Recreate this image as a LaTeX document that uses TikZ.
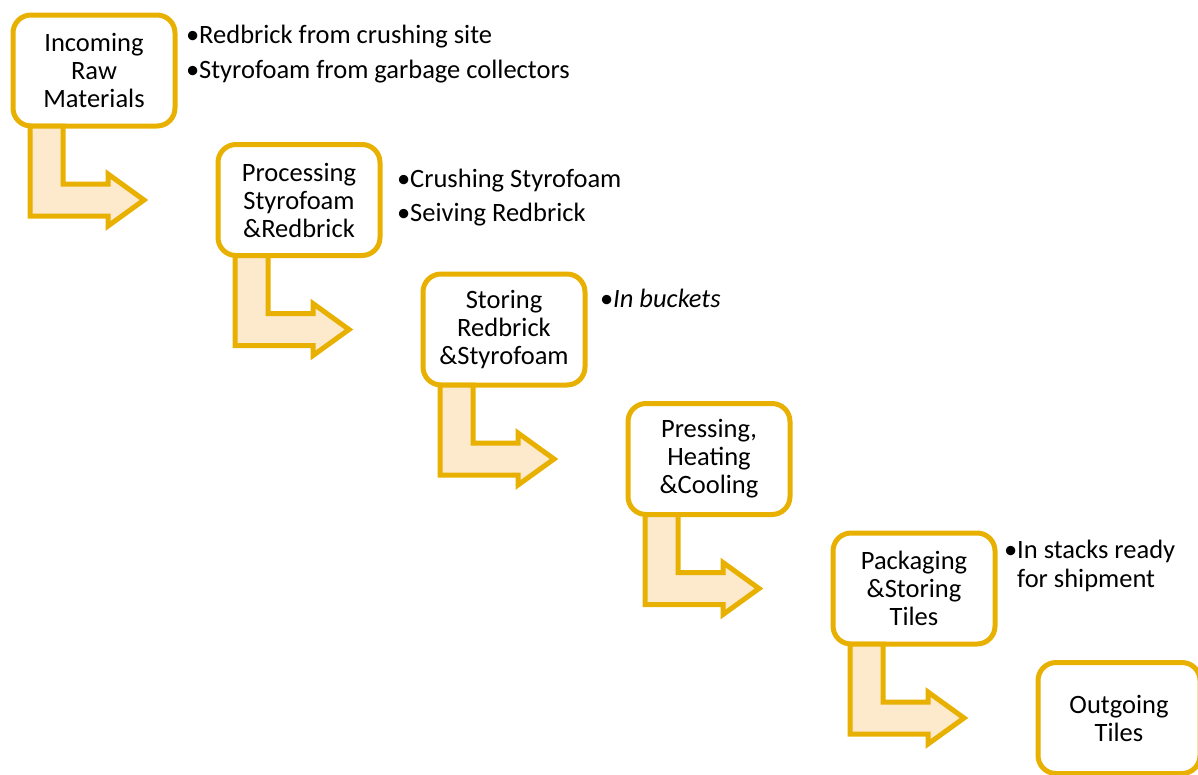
\documentclass[tikz,border=0pt]{standalone}
\usepackage{fontspec}
\setmainfont{Carlito}
\usetikzlibrary{calc,positioning}
\definecolor{gold}{RGB}{232,176,0}
\definecolor{peach}{RGB}{253,233,204}
\tikzset{
  etapa/.style={
    rounded corners=18pt,
    draw=gold,
    line width=5pt,
    fill=white,
    minimum width=162pt,
    minimum height=111pt,
    outer sep=0pt,
    inner sep=0pt,
    align=center,
    font=\fontsize{26.5}{28}\selectfont
  },
  nota/.style={
    anchor=base west,
    align=left,
    inner sep=0pt,
    font=\fontsize{26.5}{29}\selectfont
  },
  flecha/.style={
    draw=gold,
    line width=5pt,
    fill=peach,
    line join=miter
  }
}
\newcommand{\punto}{\llap{•}}

\begin{document}
\begin{tikzpicture}[x=1pt,y=-1pt,node distance=129.5pt and 205pt,on grid]
\useasboundingbox (0,0) rectangle (1198,774);
\clip (0,0) rectangle (1198,774);
\node[etapa] (b1) at (94,70.5) {Incoming\\Raw\\Materials};
\node[etapa,below right=of b1] (b2) {Processing\\Styrofoam\\\&Redbrick};
\node[etapa,below right=of b2] (b3) {Storing\\Redbrick\\\&Styrofoam};
\node[etapa,below right=of b3] (b4) {Pressing,\\Heating\\\&Cooling};
\node[etapa,below right=of b4] (b5) {Packaging\\\&Storing\\Tiles};
\node[etapa,below right=of b5] (b6) {Outgoing\\Tiles};
% bent arrows between the steps
\foreach \b in {b1,b2,b3,b4,b5}
  \draw[flecha] ($(\b.south west)+(17,0)$) -- ++(0,90) -- ++(78,0) -- ++(0,10)
    -- ++(36,-26) -- ++(-36,-26) -- ++(0,10) -- ++(-45,0) -- ++(0,-58) -- cycle;
% side notes (anchored on the last line)
\node[nota] (n1) at (199,78) {\punto Redbrick from crushing site\\[6pt]\punto Styrofoam from garbage collectors};
\node[nota] (n2) at (410,221) {\punto Crushing Styrofoam\\[5pt]\punto Seiving Redbrick};
\node[nota] (n3) at (613,307) {\punto\textit{In buckets}};
\node[nota] (n5) at (1017,587) {\punto In stacks ready\\for shipment};
\end{tikzpicture}
\end{document}
